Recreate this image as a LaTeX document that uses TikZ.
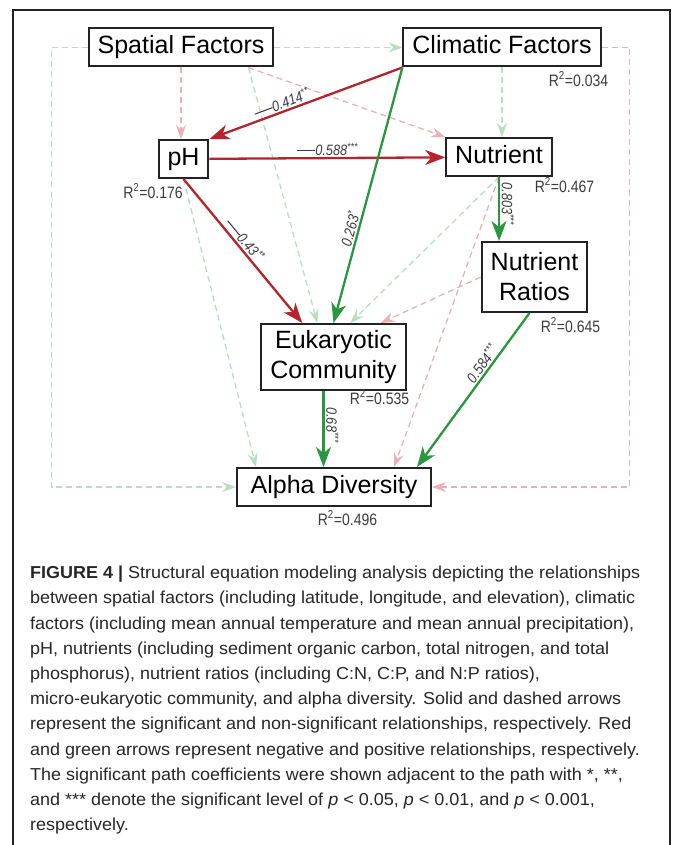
\documentclass[tikz,border=0pt]{standalone}
\usepackage{fontspec}
\setmainfont{Liberation Sans}
\newfontfamily\narrowfont[FakeStretch=0.85]{Liberation Sans}
\newfontfamily\capfont[FakeStretch=1.04]{Liberation Sans}
\usetikzlibrary{arrows.meta}

\definecolor{sigred}{RGB}{180,36,44}
\definecolor{siggreen}{RGB}{42,150,64}
\definecolor{nsred}{RGB}{234,176,181}
\definecolor{nsgreen}{RGB}{184,222,194}
\definecolor{boxline}{RGB}{35,35,35}
\definecolor{labeltext}{RGB}{60,60,60}

\newcommand{\negsign}{\rule[0.28em]{1.25em}{0.07em}}
\newcommand{\rsq}[1]{R\textsuperscript{2}=#1}

\tikzset{
	var/.style={draw=boxline, line width=2pt, fill=white, font=\fontsize{25}{30}\selectfont, inner xsep=9pt, inner ysep=7pt, text height=18.5pt, text depth=5.5pt},
	var2/.style={draw=boxline, line width=2pt, fill=white, font=\fontsize{25}{30}\selectfont, inner xsep=9pt, align=center},
	rsqlabel/.style={text=labeltext, font=\narrowfont\fontsize{16.5}{18}\selectfont, inner sep=0pt},
	coef/.style={text=labeltext, font=\narrowfont\itshape\fontsize{15}{17}\selectfont, inner sep=1.5pt},
	sig/.style={line width=2.3pt, -{Stealth[length=20pt,width=15pt,inset=6pt]}},
	ns/.style={line width=1.3pt, dash pattern=on 6pt off 4pt, -{Stealth[length=14pt,width=10pt,inset=5pt]}},
}

\begin{document}
\begin{tikzpicture}[x=1pt, y=-1pt]
	\useasboundingbox (0,0) rectangle (673,845);
	
	% frame
	\draw[boxline, line width=1.2pt] (13,845) -- (13,10) -- (670,10) -- (670,845);
	
	\begin{scope}
	\node[var] (spatial) at (181,47.5) {Spatial Factors};
	\node[var] (climatic) at (502,47.5) {Climatic Factors};
	\node[var] (ph) at (183.5,159) {pH};
	\node[var] (nutrient) at (499,157) {Nutrient};
	\node[var2, minimum height=70pt] (ratios) at (534.5,277) {Nutrient\\Ratios};
	\node[var2, minimum height=66pt] (euk) at (333.5,357) {Eukaryotic\\Community};
	\node[var, minimum width=194pt] (alpha) at (334,487) {Alpha Diversity};
	
	\node[rsqlabel] at (578.5,79) {\rsq{0.034}};
	\node[rsqlabel] at (153,191) {\rsq{0.176}};
	\node[rsqlabel] at (564.5,185) {\rsq{0.467}};
	\node[rsqlabel] at (570.5,325) {\rsq{0.645}};
	\node[rsqlabel] at (379.5,397) {\rsq{0.535}};
	\node[rsqlabel] at (347.5,518) {\rsq{0.496}};
	\end{scope}
	
	\coordinate (spfoot) at ([xshift=-26pt]spatial.south east);
	\coordinate (eukout) at ([xshift=-10pt]euk.south);
	
	% non-significant paths
	\draw[ns, nsgreen] (spatial) -- (climatic);
	
	\draw[ns, nsred] (spatial.south) -- (spatial.south |- ph.north);
	
	\draw[ns, nsred] (spfoot) -- (nutrient.north west);
	
	\draw[ns, nsgreen] (spfoot) -- ([xshift=57pt]euk.north west);
	
	\draw[ns, nsgreen] (spatial.west) -- ++(-36,0) |- (alpha.west);
	
	\draw[ns, nsgreen] (climatic.south) -- (climatic.south |- nutrient.north);
	
	\draw[ns, nsred] (climatic.east) -- ++(28,0) |- (alpha.east);
	
	\draw[ns, nsgreen] (ph.south) -- ([xshift=20pt]alpha.north west);
	
	\draw[ns, nsgreen] (nutrient.south) -- ([xshift=90pt]euk.north west);
	
	\draw[ns, nsred] (nutrient.south) -- ([xshift=-38pt]alpha.north east);
	
	\draw[ns, nsred] (ratios.west) -- ([xshift=-26pt]euk.north east);
	
	% significant paths
	\draw[sig, sigred] (climatic.south west) -- node[coef, sloped, above, pos=0.61] {\negsign0.414\textsuperscript{**}} (ph.north east);
	
	\draw[sig, sigred] (ph) -- node[coef, above] {\negsign0.588\textsuperscript{***}} (nutrient);
	
	\draw[sig, sigred] (ph.south) -- node[coef, sloped, above, pos=0.46] {\negsign0.43\textsuperscript{**}} ([xshift=42pt]euk.north west);
	
	\draw[sig, siggreen] (climatic.south west) -- node[coef, sloped, above, pos=0.64] {0.263\textsuperscript{*}} (euk.north);
	
	\draw[sig, siggreen] (nutrient.south) -- node[coef, rotate=-90, anchor=south, pos=0.42] {0.803\textsuperscript{***}} (nutrient.south |- ratios.north);
	
	\draw[sig, siggreen] (eukout) -- node[coef, rotate=-90, anchor=south, pos=0.45] {0.68\textsuperscript{***}} (eukout |- alpha.north);
	
	\draw[sig, siggreen] ([xshift=-5pt]ratios.south) -- node[coef, sloped, above, pos=0.36] {0.584\textsuperscript{***}} ([xshift=-15pt]alpha.north east);
	
	% caption
	\node[anchor=north west, inner sep=0pt, align=left, text=black!85, font=\capfont\fontsize{17.3}{25.2}\selectfont] (caption) at (30,566) {\textbf{FIGURE 4 |} Structural equation modeling analysis depicting the relationships\\
		between spatial factors (including latitude, longitude, and elevation), climatic\\
		factors (including mean annual temperature and mean annual precipitation),\\
		pH, nutrients (including sediment organic carbon, total nitrogen, and total\\
		phosphorus), nutrient ratios (including C:N, C:P, and N:P ratios),\\
		micro-eukaryotic community, and alpha diversity. Solid and dashed arrows\\
		represent the significant and non-significant relationships, respectively. Red\\
		and green arrows represent negative and positive relationships, respectively.\\
		The significant path coefficients were shown adjacent to the path with *, **,\\
		and *** denote the significant level of \textit{p} < 0.05, \textit{p} < 0.01, and \textit{p} < 0.001,\\
		respectively.};
\end{tikzpicture}
\end{document}
